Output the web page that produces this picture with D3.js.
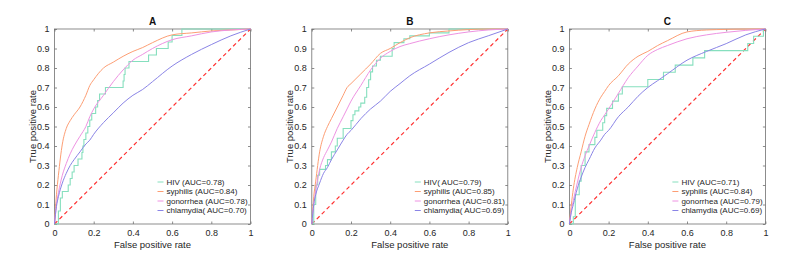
<head>
<script src="https://d3js.org/d3.v7.min.js" charset="utf-8"></script>
</head>

<body>
<div id="chart"></div>

<style>
    body {margin:0;background:#fff;}
    text {font-family:"Liberation Sans", Arial, sans-serif;}
</style>

<script>

// shared false positive rate grid for the smooth curves
const fpr = [0, 0.01, 0.02, 0.04, 0.06, 0.08, 0.1, 0.13, 0.16, 0.18, 0.2, 0.25, 0.3, 0.35, 0.4, 0.45, 0.5, 0.6, 0.7, 0.8, 0.9, 1];

const panelNames = ["A", "B", "C"];
const diseases = ["HIV", "syphilis", "gonorrhea", "chlamydia"];

// panel A
const syphilisA  = [0, 0.15, 0.25, 0.41, 0.49, 0.53, 0.56, 0.6, 0.66, 0.71, 0.74, 0.8, 0.83, 0.86, 0.885, 0.905, 0.93, 0.97, 0.98, 0.99, 0.995, 1];
const gonorrheaA = [0, 0.1, 0.16, 0.25, 0.31, 0.36, 0.4, 0.45, 0.5, 0.55, 0.59, 0.66, 0.73, 0.79, 0.84, 0.87, 0.9, 0.945, 0.965, 0.985, 0.995, 1];
const chlamydiaA = [0, 0.09, 0.14, 0.21, 0.26, 0.3, 0.33, 0.37, 0.41, 0.43, 0.46, 0.52, 0.57, 0.62, 0.66, 0.69, 0.73, 0.81, 0.87, 0.92, 0.965, 1];
// HIV is a staircase: [fpr, tpr] corners
const hivA = [[0,0],[0.02,0.067],[0.03,0.133],[0.04,0.167],[0.07,0.2],[0.08,0.233],[0.09,0.267],[0.1,0.3],[0.12,0.333],[0.14,0.367],[0.145,0.4],[0.15,0.433],[0.16,0.467],[0.17,0.5],[0.18,0.533],[0.19,0.567],[0.21,0.6],[0.22,0.633],[0.23,0.667],[0.26,0.7],[0.35,0.733],[0.355,0.767],[0.36,0.8],[0.38,0.833],[0.48,0.867],[0.52,0.9],[0.58,0.933],[0.6,0.967],[0.65,1],[1,1]];

// panel B
const syphilisB  = [0, 0.14, 0.22, 0.37, 0.45, 0.5, 0.54, 0.6, 0.66, 0.7, 0.72, 0.77, 0.82, 0.875, 0.9, 0.93, 0.955, 0.98, 0.99, 0.997, 1, 1];
const gonorrheaB = [0, 0.1, 0.17, 0.28, 0.34, 0.38, 0.42, 0.49, 0.55, 0.59, 0.63, 0.71, 0.79, 0.85, 0.885, 0.91, 0.925, 0.95, 0.97, 0.985, 0.995, 1];
const chlamydiaB = [0, 0.1, 0.15, 0.21, 0.26, 0.29, 0.33, 0.38, 0.43, 0.46, 0.48, 0.54, 0.59, 0.63, 0.68, 0.72, 0.76, 0.82, 0.88, 0.93, 0.965, 1];
const hivB = [[0,0],[0.01,0.1],[0.02,0.2],[0.03,0.25],[0.04,0.28],[0.07,0.3],[0.08,0.33],[0.1,0.37],[0.12,0.4],[0.13,0.44],[0.16,0.49],[0.2,0.53],[0.21,0.56],[0.22,0.58],[0.24,0.6],[0.25,0.62],[0.27,0.65],[0.28,0.7],[0.29,0.74],[0.3,0.78],[0.31,0.81],[0.33,0.84],[0.35,0.86],[0.41,0.9],[0.42,0.93],[0.47,0.95],[0.5,0.965],[0.6,0.98],[0.7,1],[1,1]];

// panel C
const syphilisC  = [0, 0.1, 0.18, 0.29, 0.37, 0.45, 0.51, 0.59, 0.65, 0.68, 0.71, 0.76, 0.82, 0.86, 0.885, 0.915, 0.94, 0.985, 0.995, 0.998, 1, 1];
const gonorrheaC = [0, 0.07, 0.12, 0.21, 0.29, 0.35, 0.4, 0.47, 0.53, 0.56, 0.59, 0.67, 0.75, 0.81, 0.865, 0.895, 0.915, 0.95, 0.97, 0.983, 0.993, 1];
const chlamydiaC = [0, 0.06, 0.1, 0.18, 0.24, 0.29, 0.33, 0.39, 0.43, 0.46, 0.48, 0.55, 0.6, 0.655, 0.7, 0.735, 0.77, 0.84, 0.885, 0.925, 0.97, 1];
const hivC = [[0,0],[0.02,0.037],[0.03,0.15],[0.05,0.22],[0.06,0.3],[0.08,0.37],[0.1,0.407],[0.13,0.444],[0.14,0.481],[0.17,0.519],[0.18,0.556],[0.19,0.593],[0.22,0.63],[0.25,0.667],[0.27,0.704],[0.4,0.741],[0.48,0.778],[0.54,0.815],[0.63,0.852],[0.69,0.889],[0.91,0.926],[0.94,0.963],[0.99,1],[1,1]];

const legendA = ["HIV (AUC=0.78)", "syphilis (AUC=0.84)", "gonorrhea (AUC=0.78)", "chlamydia( AUC=0.70)"];
const legendB = ["HIV( AUC=0.79)", "syphilis (AUC=0.85)", "gonorrhea (AUC=0.81)", "chlamydia( AUC=0.69)"];
const legendC = ["HIV (AUC=0.71)", "syphilis (AUC=0.84)", "gonorrhea (AUC=0.79)", "chlamydia (AUC=0.69)"];

const xTicks = [0, 0.2, 0.4, 0.6, 0.8, 1];
const yTicks = [0, 0.1, 0.2, 0.3, 0.4, 0.5, 0.6, 0.7, 0.8, 0.9, 1];

const colors = ["#86dfbe", "#fd9e74", "#ee92e2", "#8a84e6"];

const width = 800, height = 265;

const panels = [
    {name: "A", left: 54.5, hiv: hivA, smooth: [syphilisA, gonorrheaA, chlamydiaA], legend: legendA},
    {name: "B", left: 311.8, hiv: hivB, smooth: [syphilisB, gonorrheaB, chlamydiaB], legend: legendB},
    {name: "C", left: 569.4, hiv: hivC, smooth: [syphilisC, gonorrheaC, chlamydiaC], legend: legendC}
];
const plotW = 196, plotTop = 29, plotBottom = 224;

const svg = d3.select("#chart").append("svg")
    .attr("width", width)
    .attr("height", height);

panels.forEach(p => {
    const x = d3.scaleLinear().domain([0, 1]).range([p.left, p.left + plotW]);
    const y = d3.scaleLinear().domain([0, 1]).range([plotBottom, plotTop]);
    const g = svg.append("g");

    // box
    g.append("rect")
        .attr("x", x(0)).attr("y", y(1))
        .attr("width", x(1) - x(0)).attr("height", y(0) - y(1))
        .style("fill", "none").style("stroke", "#707070").style("stroke-width", 0.8);

    const fmt = d => d3.format("~g")(d);
    const styleAxis = a => {
        a.select(".domain").remove();
        a.selectAll("line").style("stroke", "#707070").style("stroke-width", 0.8);
        a.selectAll("text").style("font-size", "9px").style("fill", "#262626")
            .style("font-family", "'Liberation Sans', Arial, sans-serif");
    };

    g.append("g").attr("transform", `translate(0,${plotBottom})`)
        .call(d3.axisBottom(x).tickValues(xTicks).tickFormat(fmt).tickSizeInner(-2.5).tickSizeOuter(0).tickPadding(6))
        .call(styleAxis);
    g.append("g").attr("transform", `translate(0,${plotTop})`)
        .call(d3.axisTop(x).tickValues(xTicks).tickFormat("").tickSizeInner(-2.5).tickSizeOuter(0))
        .call(styleAxis);
    g.append("g").attr("transform", `translate(${x(0)},0)`)
        .call(d3.axisLeft(y).tickValues(yTicks).tickFormat(fmt).tickSizeInner(-2.5).tickSizeOuter(0).tickPadding(5))
        .call(styleAxis);
    g.append("g").attr("transform", `translate(${x(1)},0)`)
        .call(d3.axisRight(y).tickValues(yTicks).tickFormat("").tickSizeInner(-2.5).tickSizeOuter(0))
        .call(styleAxis);

    // chance diagonal
    g.append("line")
        .attr("x1", x(0)).attr("y1", y(0)).attr("x2", x(1)).attr("y2", y(1))
        .style("stroke", "#ff3030").style("stroke-width", 1.2).style("stroke-dasharray", "4 3");

    const stepLine = d3.line().x(d => x(d[0])).y(d => y(d[1])).curve(d3.curveStepAfter);
    const smoothLine = d3.line().x((d, i) => x(fpr[i])).y(d => y(d)).curve(d3.curveMonotoneX);

    g.append("path").datum(p.hiv).attr("d", stepLine)
        .style("fill", "none").style("stroke", colors[0]).style("stroke-width", 1.1);
    p.smooth.forEach((s, i) => {
        g.append("path").datum(s).attr("d", smoothLine)
            .style("fill", "none").style("stroke", colors[i + 1]).style("stroke-width", 1);
    });

    // title and labels
    g.append("text").attr("x", (x(0) + x(1)) / 2).attr("y", 25)
        .attr("text-anchor", "middle").style("font-size", "10px").style("font-weight", "bold")
        .style("fill", "#111").text(p.name);
    g.append("text").attr("x", (x(0) + x(1)) / 2).attr("y", 248)
        .attr("text-anchor", "middle").style("font-size", "9.5px").style("fill", "#262626")
        .text("False positive rate");
    g.append("text")
        .attr("transform", `translate(${x(0) - 22},${(plotTop + plotBottom) / 2}) rotate(-90)`)
        .attr("dy", "0.35em")
        .attr("text-anchor", "middle").style("font-size", "9.5px").style("fill", "#262626")
        .text("True positive rate");

    // legend
    const lx = x(1) - 84;
    p.legend.forEach((lab, i) => {
        const ly = 182 + i * 9.5;
        g.append("line").attr("x1", lx - 9).attr("x2", lx - 3).attr("y1", ly).attr("y2", ly)
            .style("stroke", colors[i]).style("stroke-width", 1);
        g.append("text").attr("x", lx).attr("y", ly).attr("dy", "0.35em")
            .style("font-size", "8px").style("fill", "#262626").text(lab);
    });
});

</script>

</body>
